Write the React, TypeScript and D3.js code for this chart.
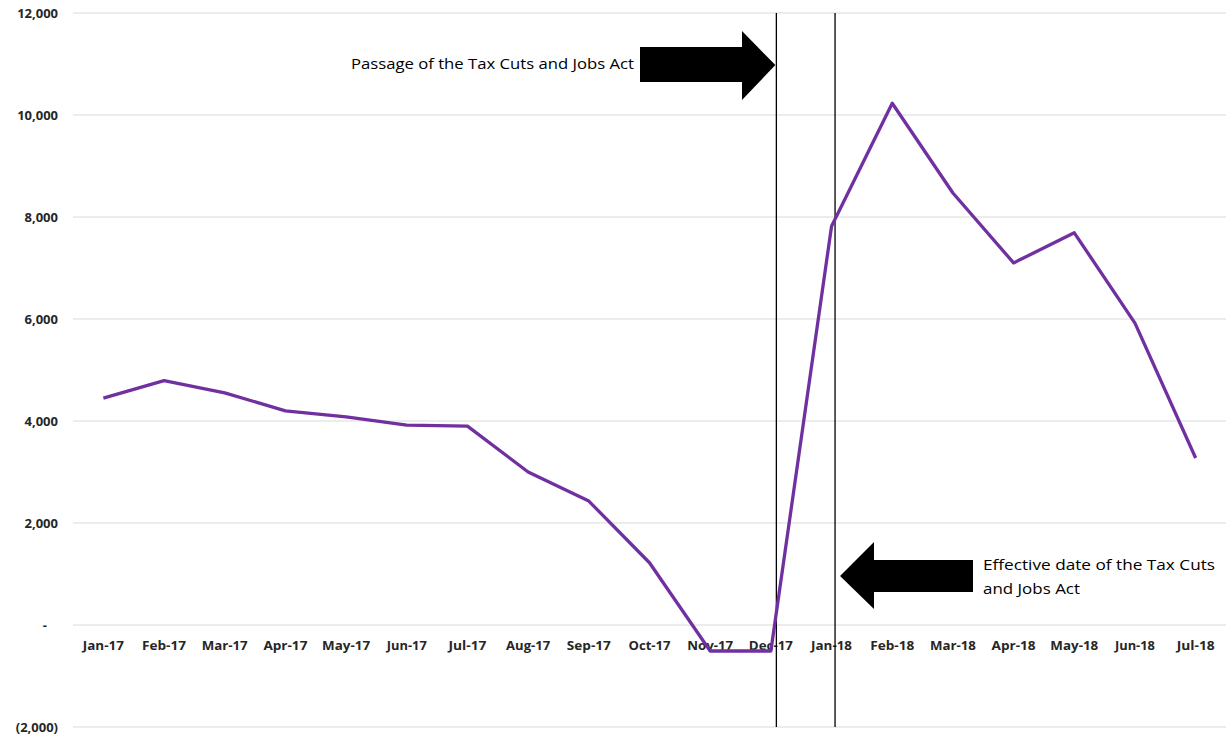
import React from "react";
import * as d3 from "d3";

const months = ["Jan-17","Feb-17","Mar-17","Apr-17","May-17","Jun-17","Jul-17","Aug-17","Sep-17","Oct-17","Nov-17","Dec-17","Jan-18","Feb-18","Mar-18","Apr-18","May-18","Jun-18","Jul-18"];
const values = [4450, 4790, 4550, 4200, 4080, 3920, 3900, 3000, 2430, 1220, -510, -510, 7820, 10230, 8470, 7100, 7690, 5920, 3275];
const yTicks = [-2000, 0, 2000, 4000, 6000, 8000, 10000, 12000];
const passageLabel = "Passage of the Tax Cuts and Jobs Act";
const effectiveLabel = ["Effective date of the Tax Cuts", "and Jobs Act"];

const W = 1226, H = 736;
const left = 73, right = 1226, top = 13, bottom = 727;

export default function App() {
  const x = d3.scaleBand<string>().domain(months).range([left, right]).paddingInner(0).paddingOuter(0);
  const y = d3.scaleLinear().domain([-2000, 12000]).range([bottom, top]);
  const cx = (m: string) => (x(m) as number) + x.bandwidth() / 2;
  const line = d3.line<number>().x((_, i) => cx(months[i])).y(d => y(d));
  const fmt = (v: number) => v === 0 ? "-" : v < 0 ? `(${d3.format(",")(-v)})` : d3.format(",")(v);

  const vl1 = cx("Dec-17") + 5.5;
  const vl2 = cx("Jan-18") + 3.5;

  const a1tip = vl1 - 1, a1y = 65;
  const rightArrow = [
    [640, 47], [742, 47], [742, 31], [a1tip, a1y], [742, 100], [742, 82], [640, 82]
  ].map(p => p.join(",")).join(" ");
  const a2tip = vl2 + 5, a2y = 576;
  const leftArrow = [
    [a2tip, a2y], [874, 542], [874, 560], [973, 560], [973, 592], [874, 592], [874, 609]
  ].map(p => p.join(",")).join(" ");

  const font = "'Open Sans', 'Noto Sans', sans-serif";
  const xLabelWidths: Record<string, number> = { "Jan-17": 41, "Feb-17": 44, "Mar-17": 46, "Apr-17": 44, "May-17": 48, "Jun-17": 40, "Jul-17": 38, "Aug-17": 44, "Sep-17": 44, "Oct-17": 42, "Nov-17": 46, "Dec-17": 44, "Jan-18": 41, "Feb-18": 44, "Mar-18": 46, "Apr-18": 44, "May-18": 48, "Jun-18": 40, "Jul-18": 38 };
  return (
    <svg width={W} height={H} style={{ position: "absolute", left: 0, top: 0, background: "#fff" }}>
      {yTicks.map(t => (
        <g key={t}>
          <line x1={left} x2={right} y1={y(t)} y2={y(t)} stroke="#d9d9d9" strokeWidth={1} />
          <text x={t === 0 ? 47 : 58} y={y(t)} dy="0.35em" textAnchor="end" fontFamily={font} fontSize={13} fontWeight="bold" fill="#262626">{fmt(t)}</text>
        </g>
      ))}
      {months.map(m => (
        <text key={m} x={cx(m)} y={y(0) + 21} dy="0.35em" textAnchor="middle" fontFamily={font} fontSize={12.5} fontWeight="bold" fill="#262626" textLength={xLabelWidths[m]} lengthAdjust="spacingAndGlyphs">{m}</text>
      ))}
      <line x1={vl1} x2={vl1} y1={top} y2={bottom} stroke="#000" strokeWidth={1.3} />
      <line x1={vl2} x2={vl2} y1={top} y2={bottom} stroke="#000" strokeWidth={1.3} />
      <path d={line(values) as string} fill="none" stroke="#7030a0" strokeWidth={3.3} strokeLinejoin="round" />
      <polygon points={rightArrow} fill="#000" />
      <polygon points={leftArrow} fill="#000" />
      <text x={351} y={64} dy="0.35em" fontFamily={font} fontSize={14.5} fill="#000" textLength={283} lengthAdjust="spacingAndGlyphs">{passageLabel}</text>
      <text x={983} y={565} dy="0.35em" fontFamily={font} fontSize={14.5} fill="#000" textLength={232} lengthAdjust="spacingAndGlyphs">{effectiveLabel[0]}</text>
      <text x={983} y={589} dy="0.35em" fontFamily={font} fontSize={14.5} fill="#000" textLength={97} lengthAdjust="spacingAndGlyphs">{effectiveLabel[1]}</text>
    </svg>
  );
}
